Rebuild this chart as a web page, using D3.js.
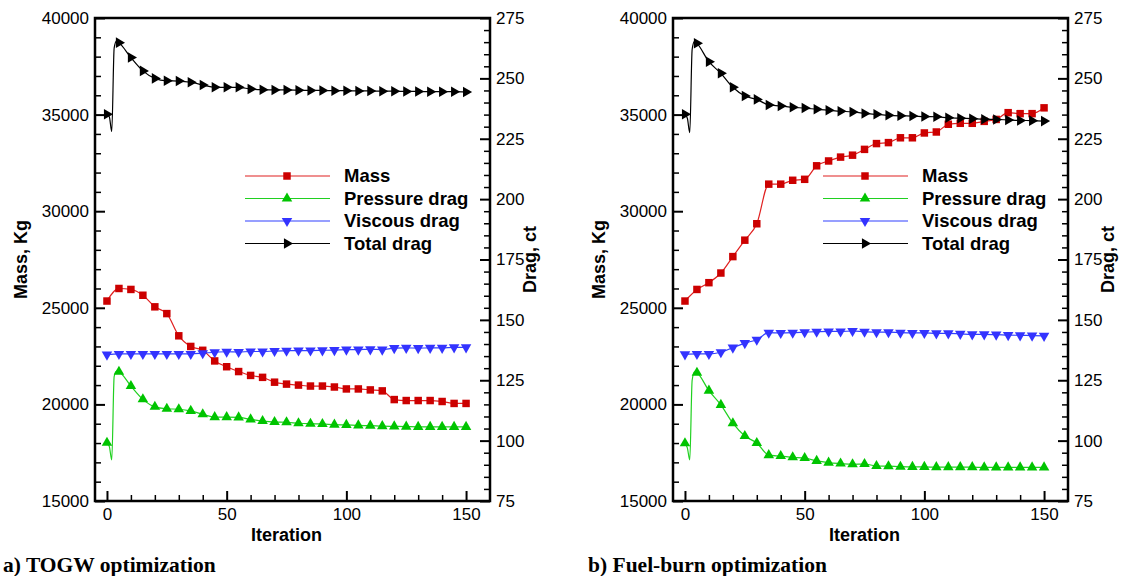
<!DOCTYPE html>
<html>
<head>
<meta charset="utf-8">
<script src="https://cdn.jsdelivr.net/npm/d3@7"></script>
<style>
  body { margin: 0; background: #fff; }
  svg text { font-family: "Liberation Sans", Arial, Helvetica, sans-serif; }
  svg text.caption { font-family: "Liberation Serif", "Times New Roman", serif; }
</style>
</head>
<body>
<svg width="1136" height="576"></svg>
<script>
// Iterations that carry a marker
const iterations = [0, 5, 10, 15, 20, 25, 30, 35, 40, 45, 50, 55, 60, 65, 70, 75,
  80, 85, 90, 95, 100, 105, 110, 115, 120, 125, 130, 135, 140, 145, 150];

// a) TOGW optimization
const togwMass = [25350, 26000, 25950, 25650, 25050, 24700, 23550, 23000, 22800, 22250, 21950,
  21700, 21500, 21400, 21150, 21050, 21000, 20950, 20950, 20900, 20800, 20800, 20750, 20700,
  20250, 20200, 20200, 20200, 20150, 20050, 20050];
const togwPressure = [99.1, 128.5, 122.6, 117.1, 114.0, 113.2, 113.0, 112.3, 110.9, 109.7, 109.7,
  109.6, 108.8, 108.1, 107.7, 107.6, 107.2, 107.0, 106.9, 106.6, 106.5, 106.3, 106.2, 106.0,
  105.9, 105.8, 105.7, 105.7, 105.7, 105.7, 105.7];
const togwViscous = [135.6, 135.9, 135.9, 135.9, 135.9, 135.9, 135.9, 135.9, 136.2, 136.6, 136.8,
  136.7, 136.9, 136.9, 137.1, 137.2, 137.3, 137.3, 137.4, 137.5, 137.7, 137.7, 137.8, 137.7,
  138.3, 138.4, 138.3, 138.4, 138.4, 138.6, 138.6];
const togwTotal = [235.1, 264.8, 258.6, 253.1, 250.0, 249.0, 248.9, 248.4, 247.3, 246.3, 246.3,
  246.3, 245.6, 245.3, 245.2, 245.2, 245.1, 245.0, 245.0, 244.9, 244.9, 244.8, 244.8, 244.7,
  244.7, 244.6, 244.6, 244.5, 244.5, 244.5, 244.4];
// unmarked iterations of the first transient [iteration, value]
const togwPressureStart = [[1, 97.5], [2, 92.0], [3, 126.5], [4, 128.8]];
const togwTotalStart = [[1, 234.0], [2, 228.0], [3, 262.5], [4, 265.5]];

// b) Fuel-burn optimization
const fuelMass = [25350, 25950, 26300, 26800, 27650, 28500, 29350, 31400, 31400, 31600, 31650,
  32350, 32600, 32800, 32900, 33200, 33500, 33550, 33800, 33800, 34050, 34100, 34500, 34550,
  34550, 34650, 34750, 35100, 35050, 35050, 35350];
const fuelPressure = [98.9, 128.1, 120.7, 114.8, 107.2, 101.9, 99.0, 94.0, 93.6, 93.1, 92.8,
  91.6, 90.9, 90.5, 90.2, 90.3, 89.5, 89.4, 89.2, 89.1, 89.1, 89.0, 89.0, 89.0, 89.0, 88.9,
  88.9, 88.9, 88.9, 88.9, 88.9];
const fuelViscous = [135.7, 135.9, 135.9, 136.6, 138.5, 140.4, 141.8, 144.7, 144.6, 144.7, 144.9,
  145.1, 145.2, 145.2, 145.4, 145.1, 144.9, 144.9, 144.7, 144.6, 144.6, 144.4, 144.4, 144.2,
  144.0, 144.0, 143.9, 143.7, 143.6, 143.5, 143.4];
const fuelTotal = [235.1, 264.5, 256.9, 252.1, 246.3, 242.7, 241.3, 239.0, 238.6, 238.0, 237.7,
  237.2, 236.8, 236.4, 236.1, 235.5, 235.1, 234.7, 234.5, 234.4, 234.2, 234.1, 233.7, 233.5,
  233.3, 233.1, 233.0, 232.8, 232.6, 232.5, 232.3];
const fuelPressureStart = [[1, 97.0], [2, 92.0], [3, 125.0], [4, 128.5]];
const fuelTotalStart = [[1, 233.5], [2, 227.5], [3, 262.0], [4, 265.3]];

// axis ticks and labels
const xMajor = [0, 50, 100, 150];
const xMinor = [10, 20, 30, 40, 60, 70, 80, 90, 110, 120, 130, 140];
const massMajor = [15000, 20000, 25000, 30000, 35000, 40000];
const dragMajor = [75, 100, 125, 150, 175, 200, 225, 250, 275];
const seriesNames = ["Mass", "Pressure drag", "Viscous drag", "Total drag"];
const captions = ["a) TOGW optimization", "b) Fuel-burn optimization"];

const styles = [
  { line: "#e02020", fill: "#cc0000", sym: d3.symbolSquare, size: 56, rot: 0, axis: "mass" },
  { line: "#20d020", fill: "#00c400", sym: d3.symbolTriangle, size: 48, rot: 0, axis: "drag" },
  { line: "#3040ff", fill: "#3333ff", sym: d3.symbolTriangle, size: 48, rot: 180, axis: "drag" },
  { line: "#000000", fill: "#000000", sym: d3.symbolTriangle, size: 48, rot: 90, axis: "drag" }
];

const svg = d3.select("svg");
const plotTop = 18, plotBottom = 501, plotW = 395;

function drawPanel(left, series, starts, caption, captionX) {
  const x = d3.scaleLinear().domain([-5, 160]).range([left, left + plotW]);
  const yMass = d3.scaleLinear().domain([15000, 40000]).range([plotBottom, plotTop]);
  const yDrag = d3.scaleLinear().domain([75, 275]).range([plotBottom, plotTop]);
  const g = svg.append("g");

  // minor ticks
  g.append("g").attr("transform", `translate(0,${plotBottom})`)
    .call(d3.axisBottom(x).tickValues(xMinor).tickFormat("").tickSizeInner(-6).tickSizeOuter(0));
  g.append("g").attr("transform", `translate(${left},0)`)
    .call(d3.axisLeft(yMass).tickValues(d3.range(16000, 40000, 1000).filter(v => v % 5000))
      .tickFormat("").tickSizeInner(-6).tickSizeOuter(0));
  g.append("g").attr("transform", `translate(${left + plotW},0)`)
    .call(d3.axisRight(yDrag).tickValues(d3.range(80, 275, 5).filter(v => v % 25))
      .tickFormat("").tickSizeInner(-6).tickSizeOuter(0));

  // major ticks with labels
  const xa = g.append("g").attr("transform", `translate(0,${plotBottom})`)
    .call(d3.axisBottom(x).tickValues(xMajor).tickSizeInner(-10).tickSizeOuter(0).tickPadding(4));
  const ya = g.append("g").attr("transform", `translate(${left},0)`)
    .call(d3.axisLeft(yMass).tickValues(massMajor).tickFormat(d3.format("d"))
      .tickSizeInner(-10).tickSizeOuter(0).tickPadding(6));
  const yb = g.append("g").attr("transform", `translate(${left + plotW},0)`)
    .call(d3.axisRight(yDrag).tickValues(dragMajor).tickSizeInner(-10).tickSizeOuter(0).tickPadding(6));

  g.selectAll(".domain").remove();
  g.selectAll(".tick line").attr("stroke", "#000").attr("stroke-width", 1.5);
  [xa, ya, yb].forEach(a => a.selectAll(".tick line").attr("stroke-width", 2));
  g.selectAll(".tick text").attr("font-size", 17).attr("fill", "#000");
  xa.selectAll(".tick text").attr("dy", "0.9em");

  // frame
  g.append("rect").attr("x", left).attr("y", plotTop).attr("width", plotW).attr("height", plotBottom - plotTop)
    .attr("fill", "none").attr("stroke", "#000").attr("stroke-width", 2.5);

  // series
  series.forEach((vals, i) => {
    const st = styles[i];
    const y = st.axis === "mass" ? yMass : yDrag;
    let pts = iterations.map((it, k) => [it, vals[k]]);
    if (starts[i]) pts = pts.concat(starts[i]).sort((a, b) => a[0] - b[0]);
    const line = d3.line().x(d => x(d[0])).y(d => y(d[1])).curve(d3.curveMonotoneX);
    g.append("path").datum(pts).attr("d", line)
      .attr("fill", "none").attr("stroke", st.line).attr("stroke-width", 1.2);
    g.append("g").selectAll("path")
      .data(iterations.map((it, k) => [it, vals[k]]))
      .join("path")
      .attr("d", d3.symbol().type(st.sym).size(st.size))
      .attr("transform", d => `translate(${x(d[0])},${y(d[1])}) rotate(${st.rot})`)
      .attr("fill", st.fill);
  });

  // legend
  const lg = g.append("g").attr("transform", `translate(${left + 150},0)`);
  seriesNames.forEach((name, i) => {
    const st = styles[i];
    const yy = 176 + i * 22.5;
    lg.append("line").attr("x1", 0).attr("x2", 85).attr("y1", yy).attr("y2", yy)
      .attr("stroke", st.line).attr("stroke-width", 1.2);
    lg.append("path").attr("d", d3.symbol().type(st.sym).size(st.size))
      .attr("transform", `translate(42,${yy}) rotate(${st.rot})`).attr("fill", st.fill);
    lg.append("text").attr("x", 99).attr("y", yy).attr("dy", "0.35em")
      .attr("font-size", 18.5).attr("font-weight", "bold").text(name);
  });

  // axis titles
  g.append("text").attr("transform", `translate(${left - 74},${(plotTop + plotBottom) / 2}) rotate(-90)`)
    .attr("text-anchor", "middle").attr("dy", "0.35em")
    .attr("font-size", 18).attr("font-weight", "bold").text("Mass, Kg");
  g.append("text").attr("transform", `translate(${left + plotW + 40},${(plotTop + plotBottom) / 2}) rotate(-90)`)
    .attr("text-anchor", "middle").attr("dy", "0.35em")
    .attr("font-size", 18).attr("font-weight", "bold").text("Drag, ct");
  g.append("text").attr("x", x(75)).attr("y", 541).attr("text-anchor", "middle")
    .attr("font-size", 18).attr("font-weight", "bold").text("Iteration");

  // caption
  g.append("text").attr("class", "caption").attr("x", captionX).attr("y", 572)
    .attr("font-size", 21.5).attr("font-weight", "bold").text(caption);
}

drawPanel(95, [togwMass, togwPressure, togwViscous, togwTotal],
  [null, togwPressureStart, null, togwTotalStart], captions[0], 3);
drawPanel(673, [fuelMass, fuelPressure, fuelViscous, fuelTotal],
  [null, fuelPressureStart, null, fuelTotalStart], captions[1], 588);
</script>
</body>
</html>
